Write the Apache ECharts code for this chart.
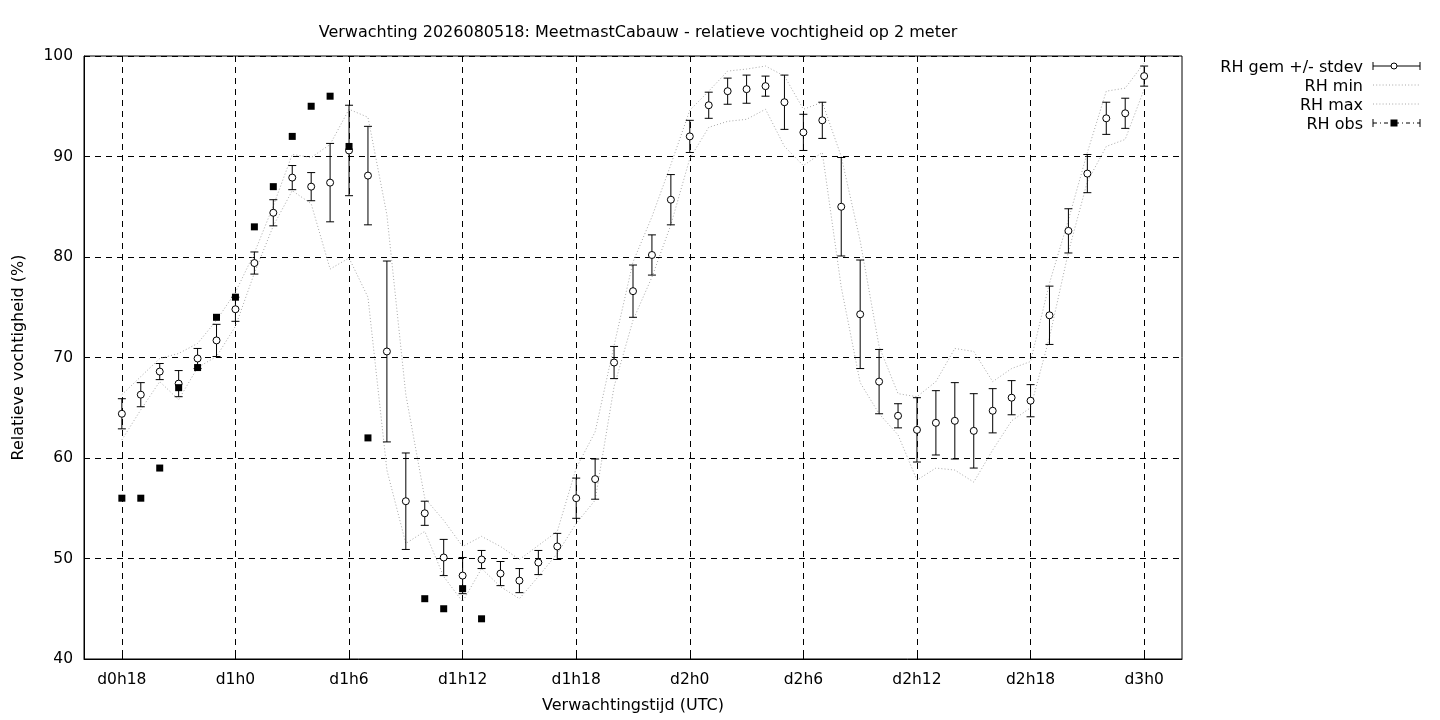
<!DOCTYPE html>
<html>
<head>
<meta charset="utf-8">
<script src="https://cdn.jsdelivr.net/npm/echarts@6/dist/echarts.min.js"></script>
<style>html,body{margin:0;padding:0;background:#fff;}#c{width:1440px;height:720px;}</style>
</head>
<body>
<div id="c"></div>
<script>
// forecast hour (hours since d0h0)
const hours = [18,19,20,21,22,23,24,25,26,27,28,29,30,31,32,33,34,35,36,37,38,39,40,41,42,43,44,45,46,47,48,49,50,51,52,53,54,55,56,57,58,59,60,61,62,63,64,65,66,67,68,69,70,71,72];
const rhMean = [64.4,66.3,68.6,67.4,69.9,71.7,74.8,79.4,84.4,87.9,87.0,87.4,90.6,88.1,70.6,55.7,54.5,50.1,48.3,49.9,48.5,47.8,49.6,51.2,56.0,57.9,69.5,76.6,80.2,85.7,92.0,95.1,96.5,96.7,97.0,95.4,92.4,93.6,85.0,74.3,67.6,64.2,62.8,63.5,63.7,62.7,64.7,66.0,65.7,74.2,82.6,88.3,93.8,94.3,98.0];
const rhSd = [1.5,1.2,0.8,1.3,1.0,1.6,1.2,1.1,1.3,1.2,1.4,3.9,4.5,4.9,9.0,4.8,1.2,1.8,1.8,0.9,1.2,1.2,1.2,1.3,2.0,2.0,1.6,2.6,2.0,2.5,1.6,1.3,1.3,1.4,1.0,2.7,1.8,1.8,4.9,5.4,3.2,1.2,3.2,3.2,3.8,3.7,2.2,1.7,1.6,2.9,2.2,1.9,1.6,1.5,1.0];
const rhMin = [61.8,64.8,67.6,65.8,69.0,70.1,73.1,78.4,83.1,86.6,85.3,78.8,79.9,76.0,58.8,51.5,52.7,48.2,45.7,49.0,47.2,46.0,48.2,50.5,53.5,55.8,67.1,73.7,78.0,83.2,89.8,92.9,93.5,93.7,94.7,91.0,89.1,90.4,77.0,67.5,64.4,62.3,57.8,59.0,58.8,57.6,60.8,63.7,65.0,72.0,80.5,87.5,91.0,91.7,96.7];
const rhMax = [66.3,68.1,69.9,70.4,71.4,73.7,76.5,80.4,85.1,90.2,89.9,91.2,94.7,93.9,84.2,66.3,56.0,53.8,51.2,52.2,51.2,49.9,51.3,52.7,59.0,62.6,71.2,79.5,84.0,89.2,94.6,96.5,98.5,98.7,99.0,98.0,94.7,95.4,90.0,81.6,71.1,66.4,66.1,67.6,70.9,70.6,67.6,68.9,69.6,77.4,83.7,90.4,96.5,96.8,99.3];
const rhObs = [56,56,59,67,69,74,76,83,87,92,95,96,91,62,null,null,46,45,47,44,null,null,null,null,null,null,null,null,null,null,null,null,null,null,null,null,null,null,null,null,null,null,null,null,null,null,null,null,null,null,null,null,null,null,null];
const xTicks = [18,24,30,36,42,48,54,60,66,72];
const yTicks = [40,50,60,70,80,90,100];
const titleText = 'Verwachting 2026080518: MeetmastCabauw - relatieve vochtigheid op 2 meter';
const legendNames = ['RH gem +/- stdev','RH min','RH max','RH obs'];

const FONT = 'DejaVu Sans';
const pair = (arr) => hours.map((h, i) => [h, arr[i]]);
const errData = hours.map((h, i) => [h, rhMean[i], rhSd[i]]);
const obsData = hours.map((h, i) => [h, rhObs[i]]).filter(d => d[1] !== null);
const dotted = { color: '#a8a8a8', width: 1, type: [1, 2.2] };

const chart = echarts.init(document.getElementById('c'), null, { renderer: 'canvas' });

const lx1 = 1373, lx2 = 1420, lmid = 1394, ltx = 1363;
const rowY = [66, 85, 104, 123];
const legendGraphics = [];
legendNames.forEach((n, i) => {
  legendGraphics.push({ type: 'text', x: ltx, y: rowY[i] + 2, style: { text: n, fill: '#000', font: '16px ' + FONT, align: 'right', verticalAlign: 'middle' } });
});
legendGraphics.push(
  { type: 'line', shape: { x1: lx1, y1: rowY[0], x2: lx2, y2: rowY[0] }, style: { stroke: '#000', lineWidth: 1 } },
  { type: 'line', shape: { x1: lx1, y1: rowY[0] - 4, x2: lx1, y2: rowY[0] + 4 }, style: { stroke: '#000', lineWidth: 1 } },
  { type: 'line', shape: { x1: lx2, y1: rowY[0] - 4, x2: lx2, y2: rowY[0] + 4 }, style: { stroke: '#000', lineWidth: 1 } },
  { type: 'circle', shape: { cx: lmid, cy: rowY[0], r: 3 }, style: { fill: '#fff', stroke: '#000', lineWidth: 1 } },
  { type: 'line', shape: { x1: lx1, y1: rowY[1], x2: lx2, y2: rowY[1] }, style: { stroke: '#a8a8a8', lineWidth: 1, lineDash: [1, 2.2] } },
  { type: 'line', shape: { x1: lx1, y1: rowY[2], x2: lx2, y2: rowY[2] }, style: { stroke: '#a8a8a8', lineWidth: 1, lineDash: [1, 2.2] } },
  { type: 'line', shape: { x1: lx1, y1: rowY[3], x2: lx2, y2: rowY[3] }, style: { stroke: '#000', lineWidth: 1, lineDash: [4, 3, 1, 3] } },
  { type: 'line', shape: { x1: lx1, y1: rowY[3] - 4, x2: lx1, y2: rowY[3] + 4 }, style: { stroke: '#000', lineWidth: 1 } },
  { type: 'line', shape: { x1: lx2, y1: rowY[3] - 4, x2: lx2, y2: rowY[3] + 4 }, style: { stroke: '#000', lineWidth: 1 } },
  { type: 'rect', shape: { x: lmid - 3.5, y: rowY[3] - 3.5, width: 7, height: 7 }, style: { fill: '#000' } }
);

const nameText = { color: '#000', fontFamily: FONT, fontSize: 16 };
const tickText = { color: '#000', fontFamily: FONT, fontSize: 15.5 };
const gridDash = { color: '#000', width: 1, type: [6, 5] };

chart.setOption({
  animation: false,
  backgroundColor: '#fff',
  title: {
    text: titleText, left: 633, top: 20, textAlign: 'center',
    textStyle: { color: '#000', fontFamily: FONT, fontSize: 16, fontWeight: 'normal' }
  },
  grid: { left: 84, right: 258, top: 56, bottom: 61, show: true, borderColor: '#000', borderWidth: 1, backgroundColor: 'transparent' },
  xAxis: {
    type: 'value', min: 16, max: 74,
    name: 'Verwachtingstijd (UTC)', nameLocation: 'middle', nameGap: 39,
    nameTextStyle: nameText,
    axisLine: { show: true, lineStyle: { color: '#000' } },
    axisTick: { show: true, inside: true, length: 6, customValues: xTicks, lineStyle: { color: '#000' } },
    axisLabel: { customValues: xTicks, margin: 13, ...tickText, formatter: v => 'd' + Math.floor(v / 24) + 'h' + (v % 24) },
    splitLine: { show: true, lineStyle: gridDash }
  },
  yAxis: {
    type: 'value', min: 40, max: 100, interval: 10,
    name: 'Relatieve vochtigheid (%)', nameLocation: 'middle', nameGap: 57,
    nameTextStyle: nameText,
    axisLine: { show: true, lineStyle: { color: '#000' } },
    axisTick: { show: true, inside: true, length: 6, lineStyle: { color: '#000' } },
    axisLabel: { margin: 11, ...tickText },
    splitLine: { show: true, lineStyle: gridDash }
  },
  graphic: legendGraphics,
  series: [
    { name: 'RH min', type: 'line', data: pair(rhMin), symbol: 'none', lineStyle: dotted, z: 2 },
    { name: 'RH max', type: 'line', data: pair(rhMax), symbol: 'none', lineStyle: dotted, z: 2 },
    {
      name: 'RH gem +/- stdev', type: 'custom', data: errData, z: 3,
      renderItem: (params, api) => {
        const x = api.value(0), m = api.value(1), s = api.value(2);
        const t = api.coord([x, m + s]);
        const b = api.coord([x, m - s]);
        const st = { stroke: '#000', lineWidth: 1 };
        return {
          type: 'group',
          children: [
            { type: 'line', shape: { x1: t[0], y1: t[1], x2: b[0], y2: b[1] }, style: st },
            { type: 'line', shape: { x1: t[0] - 4, y1: t[1], x2: t[0] + 4, y2: t[1] }, style: st },
            { type: 'line', shape: { x1: b[0] - 4, y1: b[1], x2: b[0] + 4, y2: b[1] }, style: st }
          ]
        };
      }
    },
    {
      name: 'RH gem', type: 'scatter', data: pair(rhMean), symbol: 'circle', symbolSize: 7, z: 4,
      itemStyle: { color: '#fff', borderColor: '#000', borderWidth: 1, opacity: 1 }
    },
    {
      name: 'RH obs', type: 'scatter', data: obsData, symbol: 'rect', symbolSize: 7, z: 5,
      itemStyle: { color: '#000', opacity: 1 }
    }
  ]
});
</script>
</body>
</html>
